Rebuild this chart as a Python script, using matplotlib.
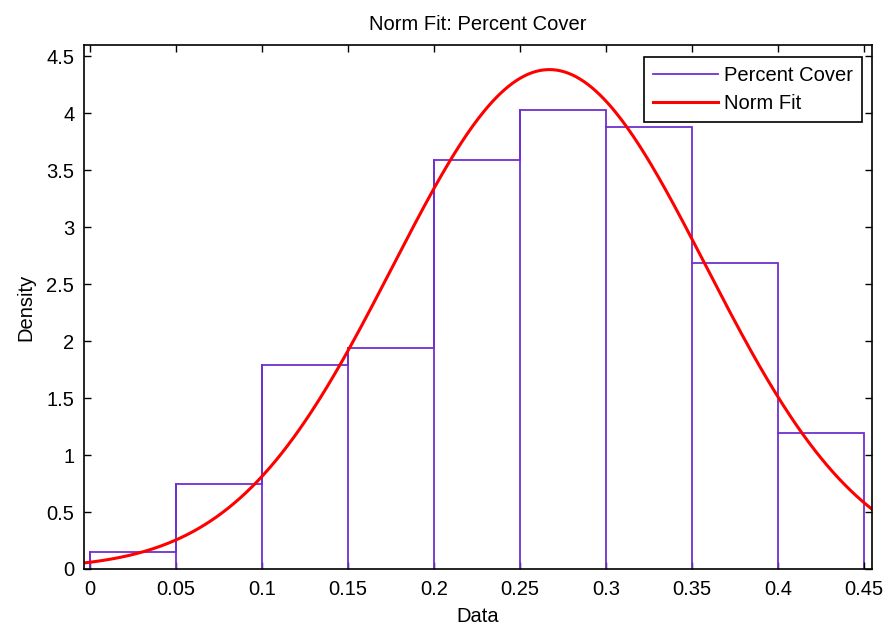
import numpy as np
import matplotlib
matplotlib.use("Agg")
import matplotlib.pyplot as plt

# histogram bins (density)
bin_edges = [0.0, 0.05, 0.10, 0.15, 0.20, 0.25, 0.30, 0.35, 0.40, 0.45]
density = [0.15, 0.75, 1.79, 1.94, 3.59, 4.03, 3.88, 2.69, 1.19]

# normal fit parameters
fit_mu = 0.267
fit_sigma = 0.091

x_ticks = [0, 0.05, 0.1, 0.15, 0.2, 0.25, 0.3, 0.35, 0.4, 0.45]
x_tick_labels = ["0", "0.05", "0.1", "0.15", "0.2", "0.25", "0.3", "0.35", "0.4", "0.45"]
y_ticks = [0, 0.5, 1, 1.5, 2, 2.5, 3, 3.5, 4, 4.5]
y_tick_labels = ["0", "0.5", "1", "1.5", "2", "2.5", "3", "3.5", "4", "4.5"]

plt.rcParams["font.family"] = ["Liberation Sans", "DejaVu Sans"]
fs = 14.5

fig = plt.figure(figsize=(8.88, 6.29), dpi=100)
ax = fig.add_axes([0.0946, 0.0954, 0.8874, 0.8331])

ax.stairs(density, bin_edges, color="#7030d0", linewidth=1.3,
          label="Percent Cover", baseline=0)
# vertical inner edges like MATLAB bar outlines
for left, h in zip(bin_edges[:-1], density):
    ax.plot([left, left], [0, h], color="#7030d0", linewidth=1.3)

xlim = (-0.0035, 0.4545)
xs = np.linspace(xlim[0], xlim[1], 400)
ys = np.exp(-(xs - fit_mu) ** 2 / (2 * fit_sigma ** 2)) / (fit_sigma * np.sqrt(2 * np.pi))
ax.plot(xs, ys, color="red", linewidth=2.2, label="Norm Fit")

ax.set_xlim(*xlim)
ax.set_ylim(0, 4.6)
ax.set_xticks(x_ticks)
ax.set_xticklabels(x_tick_labels)
ax.set_yticks(y_ticks)
ax.set_yticklabels(y_tick_labels)
ax.tick_params(direction="in", top=True, right=True, length=5, width=1,
               labelsize=fs)
ax.tick_params(axis="x", pad=8)
ax.tick_params(axis="y", pad=7)
for s in ax.spines.values():
    s.set_linewidth(1.2)

ax.set_title("Norm Fit: Percent Cover", fontsize=fs, pad=11)
ax.set_xlabel("Data", fontsize=fs, labelpad=6)
ax.set_ylabel("Density", fontsize=fs, labelpad=8)

leg = ax.legend(loc="upper right", fontsize=fs, fancybox=False,
                framealpha=1, edgecolor="black", borderpad=0.45,
                handlelength=3.2, handletextpad=0.3, labelspacing=0.45,
                borderaxespad=0, bbox_to_anchor=(0.987, 0.977))
leg.get_frame().set_linewidth(1.2)

fig.savefig("out.png", dpi=100)
